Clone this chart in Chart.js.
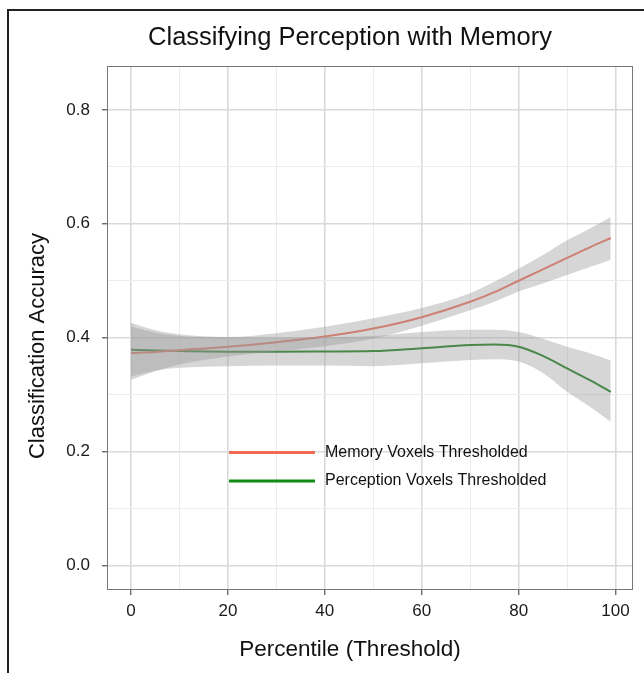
<!DOCTYPE html>
<html>
<head>
<meta charset="utf-8">
<script src="https://cdn.jsdelivr.net/npm/chart.js@4/dist/chart.umd.min.js"></script>
<style>
  html, body { margin: 0; padding: 0; background: #fff; overflow: hidden; }
  #chart { display: block; }
</style>
</head>
<body>
<canvas id="chart" width="644" height="673"></canvas>
<script>
// percentile threshold (x) where the smooth curves were read
const percentiles = [0, 5, 10, 20, 30, 40, 50, 60, 70, 75, 80, 85, 90, 95, 99];

// Memory Voxels Thresholded
const memoryFit   = [0.373, 0.375, 0.378, 0.384, 0.392, 0.402, 0.416, 0.436, 0.463, 0.480, 0.500, 0.520, 0.540, 0.560, 0.575];
const memoryUpper = [0.420, 0.409, 0.403, 0.401, 0.408, 0.419, 0.434, 0.452, 0.478, 0.498, 0.521, 0.545, 0.571, 0.593, 0.612];
const memoryLower = [0.326, 0.341, 0.353, 0.367, 0.376, 0.385, 0.398, 0.421, 0.448, 0.463, 0.481, 0.495, 0.510, 0.525, 0.537];

// Perception Voxels Thresholded
const perceptionFit   = [0.379, 0.3775, 0.3765, 0.3755, 0.3755, 0.3758, 0.3765, 0.3815, 0.387, 0.388, 0.384, 0.368, 0.346, 0.324, 0.305];
const perceptionUpper = [0.426, 0.413, 0.406, 0.401, 0.400, 0.401, 0.403, 0.410, 0.414, 0.414, 0.410, 0.398, 0.384, 0.372, 0.360];
const perceptionLower = [0.332, 0.342, 0.347, 0.350, 0.351, 0.351, 0.350, 0.355, 0.361, 0.362, 0.358, 0.338, 0.305, 0.277, 0.252];

const seriesNames = ['Memory Voxels Thresholded', 'Perception Voxels Thresholded'];
const seriesColors = ['#f26a4f', '#138a13'];

// axis ticks
const xMajorTicks = [0, 20, 40, 60, 80, 100];
const xMinorTicks = [10, 30, 50, 70, 90];
const yMajorTicks = [0.0, 0.2, 0.4, 0.6, 0.8];
const yMinorTicks = [0.1, 0.3, 0.5, 0.7];

const FONT = '"Liberation Sans", Arial, Helvetica, sans-serif';
const BAND = 'rgba(153,153,153,0.4)';

function toPoints(ys) {
    return percentiles.map((x, i) => ({ x: x, y: ys[i] }));
}

function bandSet(ys, fill) {
    return {
        data: toPoints(ys),
        borderWidth: 0,
        pointRadius: 0,
        backgroundColor: BAND,
        fill: fill,
        cubicInterpolationMode: 'monotone'
    };
}

function lineSet(ys, color, label) {
    return {
        label: label,
        data: toPoints(ys),
        borderColor: color,
        borderWidth: 2,
        pointRadius: 0,
        fill: false,
        cubicInterpolationMode: 'monotone'
    };
}

function isMajor(list, v) {
    return list.some(m => Math.abs(m - v) < 1e-9);
}

function gridFor(majors) {
    return {
        color: c => isMajor(majors, c.tick.value) ? '#dadada' : '#ececec',
        lineWidth: c => isMajor(majors, c.tick.value) ? 1.6 : 1,
        tickColor: c => isMajor(majors, c.tick.value) ? '#333' : 'rgba(0,0,0,0)',
        tickLength: 5,
        tickWidth: 1
    };
}

const decorations = {
    id: 'decorations',
    afterDraw(chart) {
        const ctx = chart.ctx;
        const a = chart.chartArea;
        ctx.save();

        // panel border
        ctx.strokeStyle = '#777';
        ctx.lineWidth = 1;
        ctx.strokeRect(a.left + 0.5, a.top + 0.5, a.right - a.left - 1, a.bottom - a.top - 1);

        // outer frame (top and left)
        ctx.strokeStyle = '#222';
        ctx.lineWidth = 2;
        ctx.beginPath();
        ctx.moveTo(8, 673);
        ctx.lineTo(8, 10);
        ctx.lineTo(644, 10);
        ctx.stroke();

        ctx.fillStyle = '#111';
        ctx.textAlign = 'center';
        ctx.textBaseline = 'middle';

        ctx.font = '25.5px ' + FONT;
        ctx.fillText('Classifying Perception with Memory', 350, 38);

        ctx.font = '22.5px ' + FONT;
        ctx.fillText('Percentile (Threshold)', 350, 650);

        ctx.save();
        ctx.translate(38, 346);
        ctx.rotate(-Math.PI / 2);
        ctx.font = '22px ' + FONT;
        ctx.fillText('Classification Accuracy', 0, 0);
        ctx.restore();

        // legend inside the panel
        ctx.font = '16px ' + FONT;
        ctx.textAlign = 'left';
        const rows = [452.5, 481];
        seriesNames.forEach((name, i) => {
            ctx.strokeStyle = seriesColors[i];
            ctx.lineWidth = 3;
            ctx.beginPath();
            ctx.moveTo(229, rows[i]);
            ctx.lineTo(315, rows[i]);
            ctx.stroke();
            ctx.fillStyle = '#111';
            ctx.fillText(name, 325, rows[i]);
        });

        ctx.restore();
    }
};

new Chart(document.getElementById('chart').getContext('2d'), {
    type: 'line',
    data: {
        datasets: [
            bandSet(memoryUpper, false),
            bandSet(memoryLower, '-1'),
            bandSet(perceptionUpper, false),
            bandSet(perceptionLower, '-1'),
            lineSet(memoryFit, '#f0705a', seriesNames[0]),
            lineSet(perceptionFit, '#167c16', seriesNames[1])
        ]
    },
    options: {
        responsive: false,
        animation: false,
        layout: { padding: { top: 66, right: 11, bottom: 0, left: 0 } },
        plugins: {
            legend: { display: false },
            title: { display: false },
            tooltip: { enabled: false }
        },
        scales: {
            x: {
                type: 'linear',
                min: -4.95,
                max: 103.6,
                afterFit: s => { s.height = 83; },
                afterBuildTicks: s => {
                    s.ticks = xMajorTicks.concat(xMinorTicks).sort((p, q) => p - q).map(v => ({ value: v }));
                },
                grid: gridFor(xMajorTicks),
                border: { display: false },
                ticks: {
                    autoSkip: false,
                    maxRotation: 0,
                    padding: 6,
                    color: '#1a1a1a',
                    font: { family: FONT, size: 17 },
                    callback: v => isMajor(xMajorTicks, v) ? String(v) : ''
                }
            },
            y: {
                type: 'linear',
                min: -0.043,
                max: 0.877,
                afterFit: s => { s.width = 107; },
                afterBuildTicks: s => {
                    s.ticks = yMajorTicks.concat(yMinorTicks).sort((p, q) => p - q).map(v => ({ value: v }));
                },
                grid: gridFor(yMajorTicks),
                border: { display: false },
                ticks: {
                    autoSkip: false,
                    padding: 12,
                    color: '#1a1a1a',
                    font: { family: FONT, size: 17 },
                    callback: v => isMajor(yMajorTicks, v) ? v.toFixed(1) : ''
                }
            }
        }
    },
    plugins: [decorations]
});
</script>
</body>
</html>
